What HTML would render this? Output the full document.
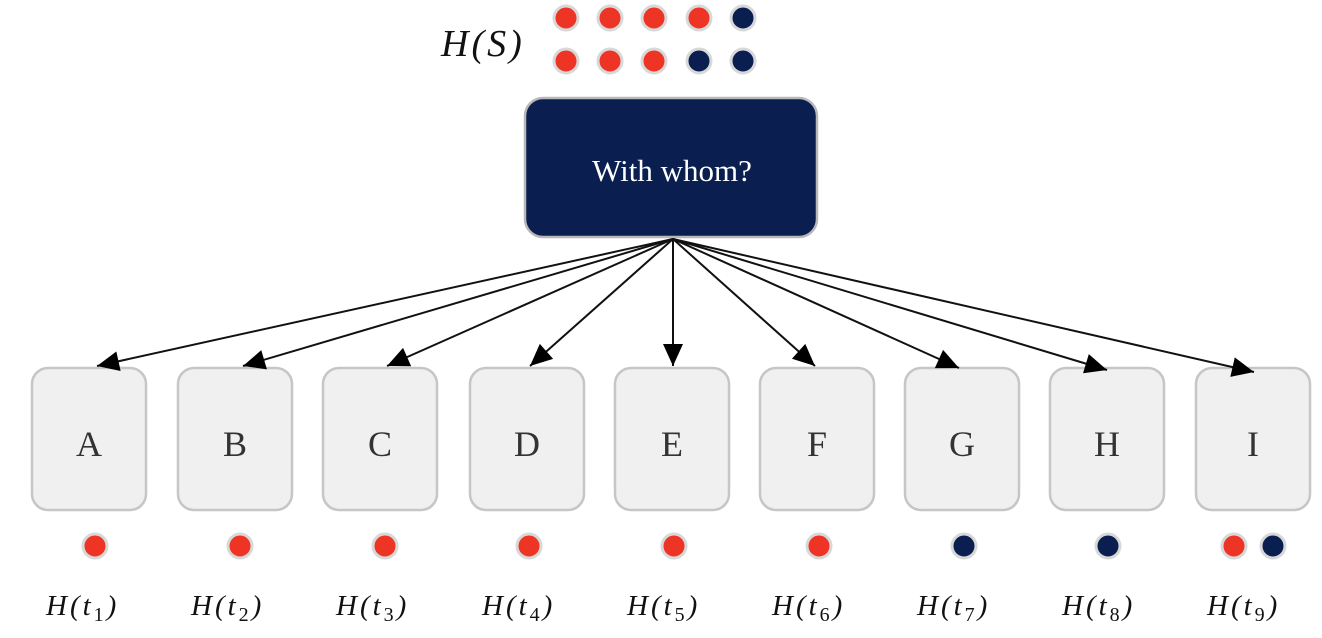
<!DOCTYPE html>
<html><head><meta charset="utf-8"><style>
html,body{margin:0;padding:0;background:#fff;}
svg{display:block;}
.lab{font-family:"Liberation Serif",serif;font-style:italic;font-size:29px;fill:#111;letter-spacing:3px;}
.box{font-family:"Liberation Serif",serif;font-size:36px;fill:#333;}
</style></head><body>
<svg width="1322" height="638" viewBox="0 0 1322 638" xmlns="http://www.w3.org/2000/svg">
<defs>
<marker id="ah" markerWidth="24" markerHeight="24" refX="22" refY="12" orient="auto" markerUnits="userSpaceOnUse" overflow="visible">
<path d="M0,2 L22,12 L0,22 Z" fill="#000"/>
</marker>
</defs>
<text x="441" y="56" class="lab" style="font-size:38px">H(S)</text>
<g stroke="#d8d8d8" stroke-width="3">
<circle cx="566" cy="18" r="12" fill="#ee3424"/>
<circle cx="610" cy="18" r="12" fill="#ee3424"/>
<circle cx="654" cy="18" r="12" fill="#ee3424"/>
<circle cx="699" cy="18" r="12" fill="#ee3424"/>
<circle cx="743" cy="18" r="12" fill="#0a1f50"/>
<circle cx="566" cy="61" r="12" fill="#ee3424"/>
<circle cx="610" cy="61" r="12" fill="#ee3424"/>
<circle cx="654" cy="61" r="12" fill="#ee3424"/>
<circle cx="699" cy="61" r="12" fill="#0a1f50"/>
<circle cx="743" cy="61" r="12" fill="#0a1f50"/>
</g>
<rect x="525" y="98" width="292" height="139" rx="18" fill="#0a1f50" stroke="#b8b8b8" stroke-width="2.5"/>
<text x="672" y="181" text-anchor="middle" font-family="Liberation Serif,serif" font-size="31" fill="#fff">With whom?</text>
<g fill="#f0f0f0" stroke="#c6c6c6" stroke-width="2.5">
<rect x="32" y="368" width="114" height="142" rx="16"/>
<rect x="178" y="368" width="114" height="142" rx="16"/>
<rect x="323" y="368" width="114" height="142" rx="16"/>
<rect x="470" y="368" width="114" height="142" rx="16"/>
<rect x="615" y="368" width="114" height="142" rx="16"/>
<rect x="760" y="368" width="114" height="142" rx="16"/>
<rect x="905" y="368" width="114" height="142" rx="16"/>
<rect x="1050" y="368" width="114" height="142" rx="16"/>
<rect x="1196" y="368" width="114" height="142" rx="16"/>
</g>
<g stroke="#111" stroke-width="2" fill="none" marker-end="url(#ah)">
<line x1="673" y1="239" x2="97" y2="366"/>
<line x1="673" y1="239" x2="243" y2="366"/>
<line x1="673" y1="239" x2="387" y2="366"/>
<line x1="673" y1="239" x2="530" y2="366"/>
<line x1="673" y1="239" x2="673" y2="366"/>
<line x1="673" y1="239" x2="815" y2="366"/>
<line x1="673" y1="239" x2="959" y2="368"/>
<line x1="673" y1="239" x2="1107" y2="370"/>
<line x1="673" y1="239" x2="1254" y2="372"/>
</g>
<g class="box" text-anchor="middle">
<text x="89" y="456">A</text><text x="235" y="456">B</text><text x="380" y="456">C</text>
<text x="527" y="456">D</text><text x="672" y="456">E</text><text x="817" y="456">F</text>
<text x="962" y="456">G</text><text x="1107" y="456">H</text><text x="1253" y="456">I</text>
</g>
<g stroke="#d8d8d8" stroke-width="3">
<circle cx="95" cy="546" r="12" fill="#ee3424"/>
<circle cx="240" cy="546" r="12" fill="#ee3424"/>
<circle cx="385" cy="546" r="12" fill="#ee3424"/>
<circle cx="529" cy="546" r="12" fill="#ee3424"/>
<circle cx="674" cy="546" r="12" fill="#ee3424"/>
<circle cx="819" cy="546" r="12" fill="#ee3424"/>
<circle cx="964" cy="546" r="12" fill="#0a1f50"/>
<circle cx="1108" cy="546" r="12" fill="#0a1f50"/>
<circle cx="1234" cy="546" r="12" fill="#ee3424"/>
<circle cx="1273" cy="546" r="12" fill="#0a1f50"/>
</g>
<g class="lab">
<text x="46" y="615">H(t<tspan font-style="normal" font-size="20" dy="6">1</tspan><tspan dy="-6">)</tspan></text>
<text x="191" y="615">H(t<tspan font-style="normal" font-size="20" dy="6">2</tspan><tspan dy="-6">)</tspan></text>
<text x="336" y="615">H(t<tspan font-style="normal" font-size="20" dy="6">3</tspan><tspan dy="-6">)</tspan></text>
<text x="482" y="615">H(t<tspan font-style="normal" font-size="20" dy="6">4</tspan><tspan dy="-6">)</tspan></text>
<text x="627" y="615">H(t<tspan font-style="normal" font-size="20" dy="6">5</tspan><tspan dy="-6">)</tspan></text>
<text x="772" y="615">H(t<tspan font-style="normal" font-size="20" dy="6">6</tspan><tspan dy="-6">)</tspan></text>
<text x="917" y="615">H(t<tspan font-style="normal" font-size="20" dy="6">7</tspan><tspan dy="-6">)</tspan></text>
<text x="1062" y="615">H(t<tspan font-style="normal" font-size="20" dy="6">8</tspan><tspan dy="-6">)</tspan></text>
<text x="1207" y="615">H(t<tspan font-style="normal" font-size="20" dy="6">9</tspan><tspan dy="-6">)</tspan></text>
</g>
</svg>
</body></html>
